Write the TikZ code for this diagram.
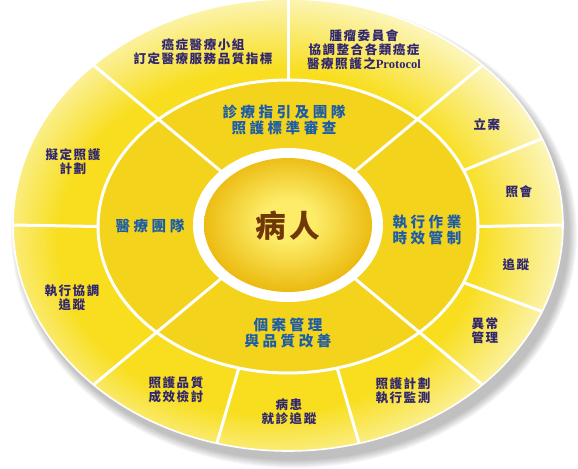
\documentclass[tikz,border=0pt]{standalone}
\usepackage{fontspec}
\newfontfamily\cjkouter[LetterSpace=12]{Noto Sans CJK TC}
\newfontfamily\cjkmid[LetterSpace=24]{Noto Sans CJK TC}
\newfontfamily\cjkcore[LetterSpace=13]{Noto Sans CJK TC}
\newfontfamily\protofont{Liberation Serif}

\definecolor{ringyellow}{RGB}{248,222,30}
\definecolor{ringpale}{RGB}{252,246,190}
\definecolor{midyellow}{RGB}{243,211,28}
\definecolor{corelight}{RGB}{252,236,104}
\definecolor{coredark}{RGB}{236,188,18}
\definecolor{outertext}{RGB}{48,38,112}
\definecolor{midtext}{RGB}{28,92,168}
\definecolor{coretext}{RGB}{112,56,8}

\pgfdeclareradialshading{outerring}{\pgfpoint{-3bp}{-3bp}}{color(0bp)=(ringyellow); color(19bp)=(ringyellow); color(27bp)=(ringpale); color(50bp)=(ringpale)}
\pgfdeclareradialshading{corefill}{\pgfpoint{0bp}{2bp}}{color(0bp)=(corelight); color(8bp)=(corelight); color(25bp)=(coredark); color(50bp)=(coredark)}

\begin{document}
\begin{tikzpicture}[x=0.75pt,y=0.75pt,yscale=-1,xscale=1,
  spoke/.style={draw=white,line width=2.25pt},
  outerlabel/.style={text=outertext,align=center,font=\cjkouter\bfseries\fontsize{9.4}{10.5}\selectfont},
  midlabel/.style={text=midtext,align=center,font=\cjkmid\bfseries\fontsize{10.9}{12.4}\selectfont},
  corelabel/.style={text=coretext,font=\cjkcore\bfseries\fontsize{23}{25}\selectfont}]
\useasboundingbox (0,0) rectangle (578,468);

%Shadow under the outer ellipse
\foreach \s in {0,...,8}
  \fill[black,opacity=0.03] (294,234) ellipse ({275+\s} and {226+\s});

%Shape: Ellipse (outer ring)
\path[shading=outerring,draw=white,line width=1.2pt] (288,225) ellipse (275 and 226);
%Shape: Ellipse (middle ring)
\fill[midyellow] (288,226.5) ellipse (190 and 146.5);

%Spokes of the outer ring
\foreach \t in {90,22.5,0,-22.5,-75,-105,180}
  \draw[spoke] ({288+190*cos(\t)},{226.5-146.5*sin(\t)}) -- ({288+275*cos(\t)},{225-226*sin(\t)});
%Spokes through both rings
\foreach \t in {45,135,225,315}
  \draw[spoke] ({288+84*cos(\t)},{225-67*sin(\t)}) -- ({288+275*cos(\t)},{225-226*sin(\t)});

%Border of the middle ring
\draw[white,line width=2.25pt] (288,226.5) ellipse (190 and 146.5);
%Shape: Ellipse (white ring and core)
\fill[white] (288,225) ellipse (95 and 77);
\path[shading=corefill] (288,225) ellipse (84 and 67);

% Text Node
\node[outerlabel] (oncoteam) at (203,52) {癌症醫療小組\\訂定醫療服務品質指標};
% Text Node
\node[outerlabel] (tumorboard) at (364,50) {腫瘤委員會\\協調整合各類癌症\\醫療照護之{\protofont\bfseries Protocol}};
% Text Node
\node[outerlabel] (register) at (487,125) {立案};
% Text Node
\node[outerlabel] (consult) at (519,192) {照會};
% Text Node
\node[outerlabel] (followup) at (516,265) {追蹤};
% Text Node
\node[outerlabel] (anomaly) at (485,331) {異常\\管理};
% Text Node
\node[outerlabel] (monitor) at (403,391) {照護計劃\\執行監測};
% Text Node
\node[outerlabel] (visit) at (289,412) {病患\\就診追蹤};
% Text Node
\node[outerlabel] (review) at (176,390) {照護品質\\成效檢討};
% Text Node
\node[outerlabel] (coordinate) at (72,298) {執行協調\\追蹤};
% Text Node
\node[outerlabel] (plan) at (73,162) {擬定照護\\計劃};

% Text Node
\node[midlabel] (guideline) at (284,120) {診療指引及團隊\\照護標準審查};
% Text Node
\node[midlabel] (timing) at (427,230) {執行作業\\時效管制};
% Text Node
\node[midlabel] (casemgmt) at (288,333) {個案管理\\與品質改善};
% Text Node
\node[midlabel] (medteam) at (150,226) {醫療團隊};

% Text Node
\node[corelabel] (patient) at (288,226) {病人};

\end{tikzpicture}
\end{document}
